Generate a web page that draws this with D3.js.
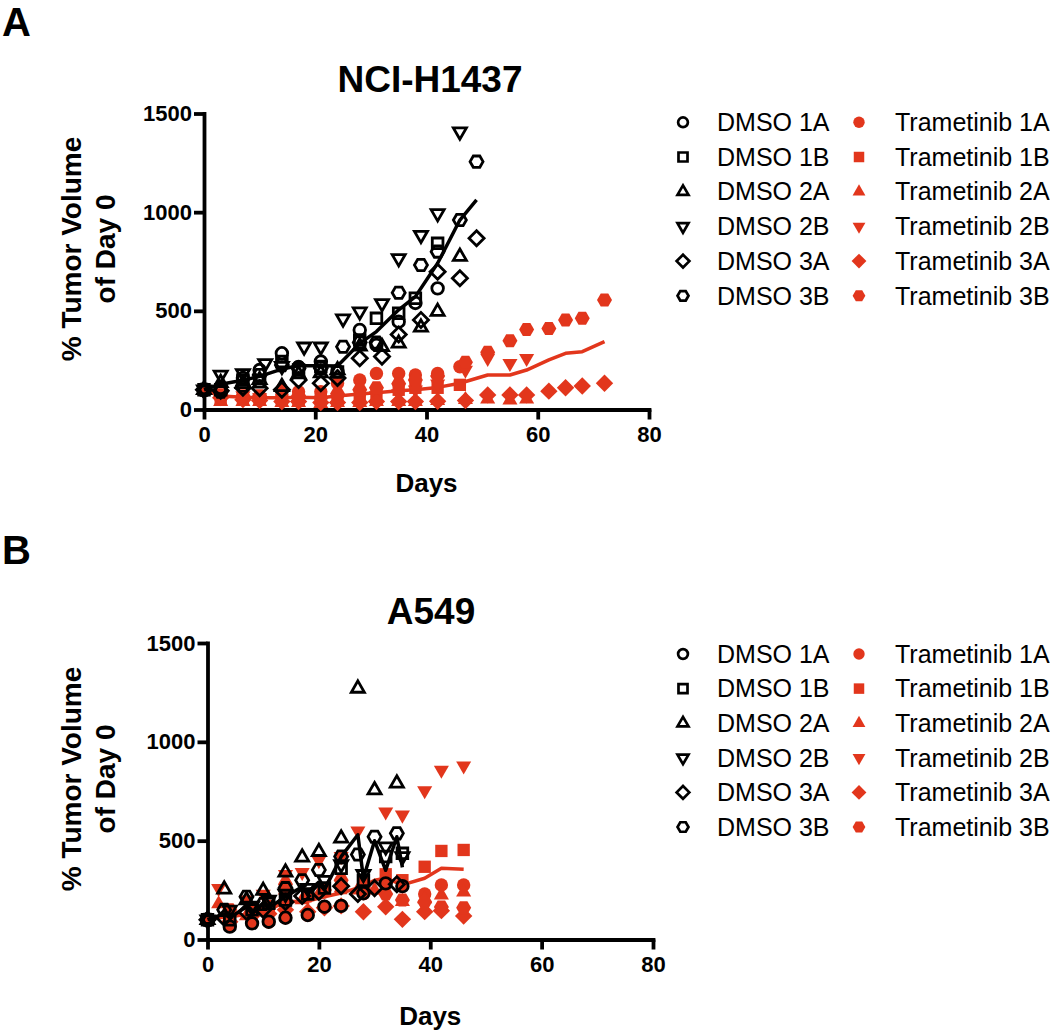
<!DOCTYPE html>
<html><head><meta charset="utf-8">
<script src="https://cdn.jsdelivr.net/npm/d3@7"></script>
<style>
body{margin:0;background:#fff;}
svg{display:block;font-family:"Liberation Sans",Arial,Helvetica,sans-serif;}
</style>
</head><body>
<svg id="chart" width="1050" height="1035"></svg>
<script>
// ---------------- DATA ----------------
const xTicks = [0, 20, 40, 60, 80];
const yTicks = [0, 500, 1000, 1500];
const seriesIds = ["1A", "1B", "2A", "2B", "3A", "3B"];
const seriesShapes = ["circle", "square", "triangle", "invtri", "diamond", "hexagon"];
const titles = ["NCI-H1437", "A549"];
const panelLetters = ["A", "B"];

// Panel A: NCI-H1437  [day, % tumor volume]
const A_DMSO_1A = [[0,100],[3,110],[7,160],[10,200],[14,285],[17,215],[21,243],[24,195],[28,403],[31,327],[35,445],[38,540],[42,614]];
const A_DMSO_1B = [[0,100],[3,100],[7,150],[10,141],[14,243],[17,200],[21,218],[24,190],[28,352],[31,462],[35,488],[38,564],[42,842]];
const A_DMSO_2A = [[0,100],[3,135],[7,130],[10,150],[14,115],[17,180],[21,185],[24,200],[28,320],[32,318],[35,335],[39,416],[42,496],[46,775]];
const A_DMSO_2B = [[0,100],[3,175],[7,183],[11,234],[14,220],[18,318],[21,318],[25,460],[28,496],[32,538],[35,766],[39,884],[42,994],[46,1408]];
const A_DMSO_3A = [[0,100],[3,95],[7,110],[10,108],[14,100],[17,150],[21,133],[24,160],[28,260],[32,268],[35,380],[39,454],[42,698],[46,665],[49,868]];
const A_DMSO_3B = [[0,100],[3,90],[7,120],[10,175],[14,225],[17,209],[21,210],[25,318],[28,340],[31,340],[35,592],[39,732],[42,800],[46,960],[49,1256]];

const A_TRA_1A = [[0,100],[3,60],[7,55],[10,60],[14,75],[17,90],[21,90],[24,133],[28,150],[31,183],[35,183],[38,175],[42,183],[46,217]];
const A_TRA_1B = [[0,100],[3,55],[7,50],[10,50],[14,45],[17,50],[21,50],[24,55],[28,70],[31,80],[35,100],[38,110],[42,110],[46,125]];
const A_TRA_2A = [[0,100],[3,40],[7,40],[10,40],[14,35],[17,35],[21,30],[24,35],[28,35],[31,40],[35,40],[38,40],[42,45],[47,50],[51,52],[55,48],[58,52]];
const A_TRA_2B = [[0,100],[3,70],[7,70],[10,60],[14,40],[17,45],[21,40],[24,50],[28,60],[31,70],[35,80],[38,100],[42,130],[47,200],[51,260],[55,234],[58,259]];
const A_TRA_3A = [[0,100],[3,60],[7,50],[10,45],[14,40],[17,40],[21,35],[24,35],[28,35],[31,40],[35,40],[38,40],[42,42],[47,45],[51,74],[55,74],[58,74],[62,93],[65,110],[68,119],[72,133]];
const A_TRA_3B = [[0,100],[3,75],[7,70],[10,70],[14,100],[17,70],[21,60],[24,80],[28,100],[31,110],[35,130],[38,150],[42,170],[47,240],[51,290],[55,349],[58,406],[62,411],[65,454],[68,462],[72,555]];

const A_DMSO_MEAN = [[0,100],[3,128],[7,148],[10,168],[14,205],[17,222],[21,222],[24,220],[28,335],[31,395],[35,505],[38,572],[42,741],[46,960],[49,1062]];
const A_TRA_MEAN = [[0,100],[3,68],[7,62],[10,60],[14,60],[17,62],[21,60],[24,68],[28,78],[31,85],[35,95],[38,100],[42,112],[46,133],[51,175],[55,175],[58,200],[62,251],[65,285],[68,293],[72,344]];

// Panel B: A549
const B_DMSO_1A = [[0,100],[4,65],[8,82],[11,90],[14,110],[18,124],[21,166],[24,170],[28,234],[32,284],[35,270]];
const B_DMSO_1B = [[0,100],[4,100],[8,150],[11,183],[14,200],[18,230],[21,260],[24,360],[28,300],[32,420],[35,436]];
const B_DMSO_2A = [[0,100],[3,254],[7,200],[10,247],[14,340],[17,416],[20,444],[24,512],[27,1270],[30,756],[34,790]];
const B_DMSO_2B = [[0,100],[4,150],[8,170],[11,200],[14,230],[18,260],[21,300],[24,380],[28,330],[32,470],[35,420]];
const B_DMSO_3A = [[0,100],[3,110],[7,140],[10,150],[14,190],[17,220],[20,240],[24,270],[27,230],[30,260],[34,280]];
const B_DMSO_3B = [[0,100],[3,150],[7,216],[10,180],[14,260],[17,300],[20,352],[24,420],[27,430],[30,520],[34,537]];

const B_TRA_1A = [[0,100],[4,68],[8,84],[11,88],[14,110],[18,122],[21,166],[24,172],[28,232],[32,282],[35,272],[39,230],[42,276],[46,276]];
const B_TRA_1B = [[0,100],[4,110],[8,150],[11,170],[14,200],[18,230],[21,250],[24,260],[28,290],[32,330],[35,300],[39,368],[42,448],[46,453]];
const B_TRA_2A = [[0,100],[2,180],[7,120],[10,150],[14,250],[17,200],[20,230],[24,260],[27,250],[30,250],[35,191],[39,205],[42,225],[46,240]];
const B_TRA_2B = [[0,100],[2,259],[7,200],[10,230],[14,330],[17,340],[20,400],[24,420],[27,550],[32,646],[35,630],[39,753],[42,857],[46,879]];
const B_TRA_3A = [[0,100],[4,90],[8,120],[11,130],[14,150],[18,140],[21,160],[24,170],[28,140],[32,166],[35,102],[39,141],[42,146],[46,119]];
const B_TRA_3B = [[0,100],[4,150],[8,140],[11,160],[14,280],[18,220],[21,250],[24,300],[28,260],[32,230],[35,200],[39,190],[42,165],[46,160]];

const B_DMSO_MEAN = [[0,100],[3,130],[4,110],[7,166],[8,130],[10,180],[11,160],[14,216],[17,267],[18,240],[20,290],[21,250],[24,419],[27,530],[28,310],[30,500],[32,350],[34,520],[35,365]];
const B_TRA_MEAN = [[0,100],[2,110],[4,115],[8,132],[11,150],[14,191],[18,195],[21,216],[24,235],[28,270],[30,300],[32,310],[35,276],[39,310],[42,360],[46,355]];

// ---------------- DRAW ----------------
const RED = "#e2361c";
const svg = d3.select("#chart");
const FONT = '"Liberation Sans",Arial,Helvetica,sans-serif';

function shapePath(shape, s) {
  const pts = (angles, R) => "M" + angles.map(a => {
    const r = a * Math.PI / 180;
    return (R * Math.cos(r)).toFixed(2) + "," + (R * Math.sin(r)).toFixed(2);
  }).join("L") + "Z";
  switch (shape) {
    case "circle": return `M${s},0A${s},${s} 0 1,1 ${-s},0A${s},${s} 0 1,1 ${s},0Z`;
    case "square": { const h = s * 0.92; return `M${-h},${-h}H${h}V${h}H${-h}Z`; }
    case "triangle": return pts([-90, 30, 150], s * 1.3);
    case "invtri": return pts([90, 210, 330], s * 1.3);
    case "diamond": return pts([0, 90, 180, 270], s * 1.3);
    case "hexagon": return pts([0, 60, 120, 180, 240, 300], s * 1.12);
  }
}

function drawPanel(p) {
  const g = svg.append("g");
  const x = d3.scaleLinear().domain([0, 80]).range([p.x0, p.x1]);
  const y = d3.scaleLinear().domain([0, 1500]).range([p.y0, p.y1]);

  // axes
  const xa = g.append("g").attr("transform", `translate(0,${p.y0})`)
    .call(d3.axisBottom(x).tickValues(xTicks).tickSize(10).tickSizeOuter(0).tickPadding(7).tickFormat(d3.format("d")));
  const ya = g.append("g").attr("transform", `translate(${p.x0},0)`)
    .call(d3.axisLeft(y).tickValues(yTicks).tickSize(10).tickSizeOuter(0).tickPadding(2).tickFormat(d3.format("d")));
  [xa, ya].forEach(a => {
    a.selectAll("path.domain").attr("stroke", "#000").attr("stroke-width", 3.8).attr("stroke-linecap", "square");
    a.selectAll(".tick line").attr("stroke", "#000").attr("stroke-width", 3.8);
    a.selectAll(".tick text").attr("fill", "#000").style("font-family", FONT)
      .style("font-size", "22px").style("font-weight", "bold");
  });

  const line = d3.line().x(d => x(d[0])).y(d => y(d[1]));

  const drawPts = (data, shape, hollow, s) => {
    g.append("g").selectAll("path").data(data).join("path")
      .attr("transform", d => `translate(${x(d[0])},${y(d[1])})`)
      .attr("d", shapePath(shape, s))
      .attr("fill", hollow ? "none" : RED)
      .attr("stroke", hollow ? "#000" : "none")
      .attr("stroke-width", hollow ? 2.8 : 0)
      .attr("stroke-linejoin", "miter");
  };

  g.append("path").datum(p.traMean).attr("d", line).attr("fill", "none")
    .attr("stroke", RED).attr("stroke-width", 3.5).attr("stroke-linejoin", "round");
  p.tra.forEach((data, i) => drawPts(data, seriesShapes[i], false, 6.7));
  p.dmso.forEach((data, i) => drawPts(data, seriesShapes[i], true, 5.8));
  g.append("path").datum(p.dmsoMean).attr("d", line).attr("fill", "none")
    .attr("stroke", "#000").attr("stroke-width", 3.5).attr("stroke-linejoin", "round");

  // titles
  svg.append("text").attr("x", 2).attr("y", p.letterY).text(p.letter)
    .style("font-size", "40px").style("font-weight", "bold");
  svg.append("text").attr("x", p.titleX).attr("y", p.titleY).attr("text-anchor", "middle")
    .text(p.title).style("font-size", "37px").style("font-weight", "bold");
  svg.append("text").attr("x", (p.x0 + p.x1) / 2).attr("y", p.daysY).attr("text-anchor", "middle")
    .text("Days").style("font-size", "26px").style("font-weight", "bold");
  const yt = svg.append("text").attr("transform", `translate(0,${p.yTitleC}) rotate(-90)`)
    .attr("text-anchor", "middle").style("font-size", "28px").style("font-weight", "bold");
  yt.append("tspan").attr("x", 0).attr("y", 81).text("% Tumor Volume");
  yt.append("tspan").attr("x", 0).attr("y", 115).text("of Day 0");

  // legend
  const lg = svg.append("g");
  seriesIds.forEach((id, i) => {
    const cy = p.legY + i * p.legStep;
    lg.append("path").attr("transform", `translate(683,${cy})`).attr("d", shapePath(seriesShapes[i], 4.9))
      .attr("fill", "none").attr("stroke", "#000").attr("stroke-width", 2.7);
    lg.append("text").attr("x", 717).attr("y", cy + 8.7).text("DMSO " + id).style("font-size", "25px");
    lg.append("path").attr("transform", `translate(859,${cy})`).attr("d", shapePath(seriesShapes[i], 5.7))
      .attr("fill", RED);
    lg.append("text").attr("x", 895).attr("y", cy + 8.7).text("Trametinib " + id).style("font-size", "25px");
  });
}

drawPanel({
  x0: 204, x1: 649, y0: 409.5, y1: 113.5,
  dmso: [A_DMSO_1A, A_DMSO_1B, A_DMSO_2A, A_DMSO_2B, A_DMSO_3A, A_DMSO_3B],
  tra: [A_TRA_1A, A_TRA_1B, A_TRA_2A, A_TRA_2B, A_TRA_3A, A_TRA_3B],
  dmsoMean: A_DMSO_MEAN, traMean: A_TRA_MEAN,
  letter: panelLetters[0], letterY: 36, title: titles[0], titleX: 430, titleY: 92,
  daysY: 492, yTitleC: 249, legY: 122.3, legStep: 34.7
});
drawPanel({
  x0: 207.5, x1: 653, y0: 939.5, y1: 643,
  dmso: [B_DMSO_1A, B_DMSO_1B, B_DMSO_2A, B_DMSO_2B, B_DMSO_3A, B_DMSO_3B],
  tra: [B_TRA_1A, B_TRA_1B, B_TRA_2A, B_TRA_2B, B_TRA_3A, B_TRA_3B],
  dmsoMean: B_DMSO_MEAN, traMean: B_TRA_MEAN,
  letter: panelLetters[1], letterY: 564, title: titles[1], titleX: 431, titleY: 624,
  daysY: 1025, yTitleC: 779, legY: 654, legStep: 34.6
});
</script>
</body></html>
